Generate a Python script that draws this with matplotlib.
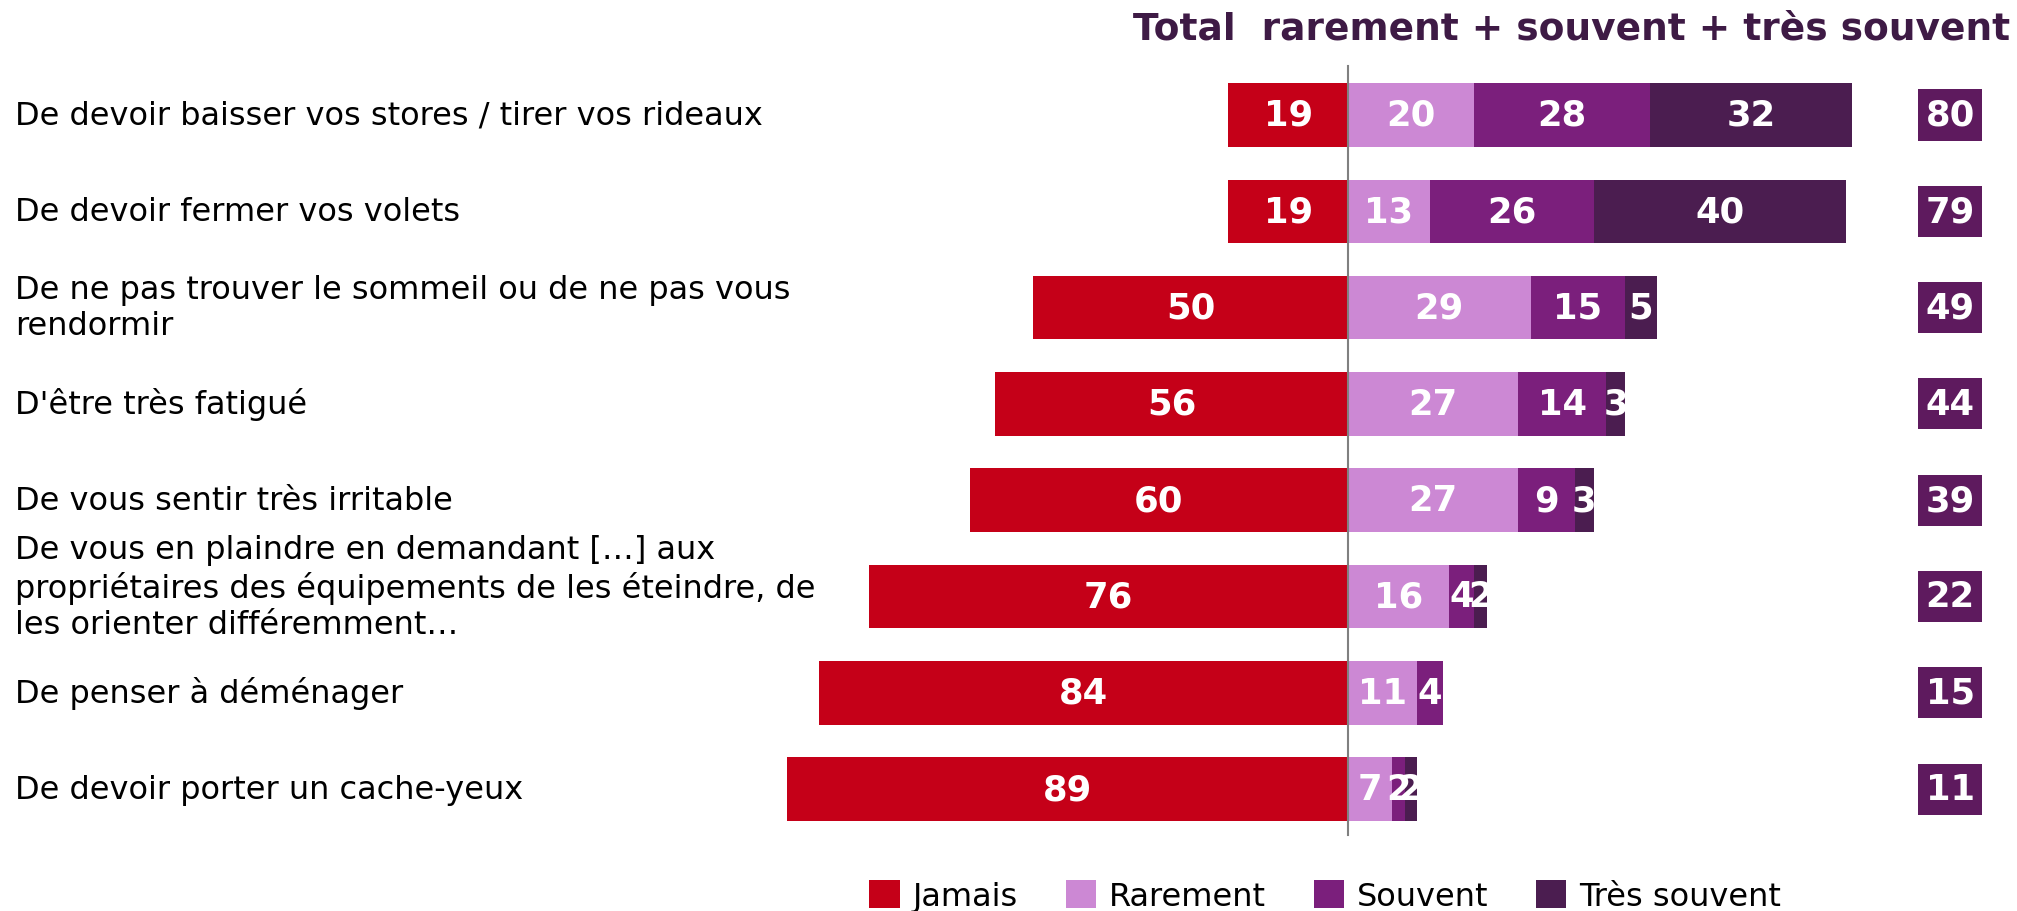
import matplotlib
matplotlib.use("Agg")
import matplotlib.pyplot as plt
from matplotlib.patches import Patch
import matplotlib.transforms as mtransforms

# data
labels = [
    "De devoir baisser vos stores / tirer vos rideaux",
    "De devoir fermer vos volets",
    "De ne pas trouver le sommeil ou de ne pas vous\nrendormir",
    "D'être très fatigué",
    "De vous sentir très irritable",
    "De vous en plaindre en demandant […] aux\npropriétaires des équipements de les éteindre, de\nles orienter différemment…",
    "De penser à déménager",
    "De devoir porter un cache-yeux",
]
jamais = [19, 19, 50, 56, 60, 76, 84, 89]
rarement = [20, 13, 29, 27, 27, 16, 11, 7]
souvent = [28, 26, 15, 14, 9, 4, 4, 2]
tres_souvent = [32, 40, 5, 3, 3, 2, 0, 2]
totals = [80, 79, 49, 44, 39, 22, 15, 11]

series_names = ["Jamais", "Rarement", "Souvent", "Très souvent"]
colors = ["#C50018", "#CC88D4", "#7B1F7C", "#4B1D50"]
total_color = "#5E1A5E"
title_color = "#3E1A45"

plt.rcParams['font.family'] = ['DejaVu Sans']

W, H = 2017, 912
fig = plt.figure(figsize=(W / 100, H / 100), dpi=100)
ax = fig.add_axes([0, 0, 1, 1])

# map pixels -> data: zero at x=1348 px, 6.3 px per unit; rows at 116 px + 96.3 px each
ppu = 6.3
x0 = 1348
ax.set_xlim(-x0 / ppu, (W - x0) / ppu)
row0, rstep = 116, 96.3
ax.set_ylim((H - row0) / rstep, -row0 / rstep)
ax.axis("off")

ys = list(range(len(labels)))
bh = 0.66

ax.barh(ys, [-v for v in jamais], height=bh, color=colors[0])
left = [0] * len(ys)
for vals, c in zip([rarement, souvent, tres_souvent], colors[1:]):
    ax.barh(ys, vals, left=left, height=bh, color=c)
    left = [l + v for l, v in zip(left, vals)]

val_font = dict(color="white", fontweight="bold", fontsize=25.5, ha="center", va="center")
for i in ys:
    ax.text(-jamais[i] / 2, i, str(jamais[i]), **val_font)
    start = 0
    for vals in [rarement, souvent, tres_souvent]:
        v = vals[i]
        if v > 0:
            ax.text(start + v / 2, i, str(v), **val_font)
        start += v

# zero line
ax.plot([0, 0], [-0.51, 7.48], color="#808080", lw=1.5, zorder=5)

# total boxes
ax.barh(ys, [10.2] * len(ys), left=90.5, height=0.53, color=total_color)
for i in ys:
    ax.text(95.6, i, str(totals[i]), **val_font)

# category labels
trans = mtransforms.blended_transform_factory(ax.transAxes, ax.transData)
for i, lab in enumerate(labels):
    dy = -0.1 if lab.count("\n") == 2 else 0
    ax.text(15 / W, i + dy, lab, transform=trans, ha="left", va="center",
            fontsize=23, color="black", linespacing=1.22)

fig.text(2010 / W, 1 - 29 / H, "Total  rarement + souvent + très souvent",
         ha="right", va="center", fontsize=27, fontweight="bold", color=title_color)

handles = [Patch(facecolor=c, edgecolor="none") for c in colors]
fig.legend(handles, series_names, loc="center", bbox_to_anchor=(0.657, 1 - 897 / H),
           ncol=4, frameon=False, fontsize=23, handlelength=0.95, handleheight=0.95,
           handletextpad=0.4, columnspacing=1.5, borderpad=0)

fig.savefig("out.png", dpi=100)
